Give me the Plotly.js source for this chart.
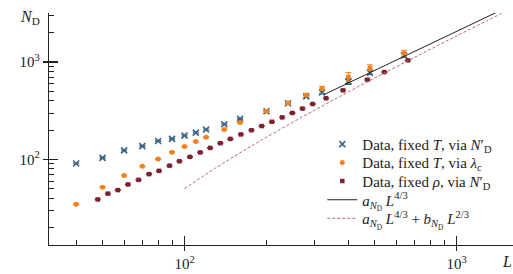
<!DOCTYPE html>
<html>
<head>
<meta charset="utf-8">
<script src="https://cdn.plot.ly/plotly-3.0.1.min.js"></script>
<style>html,body{margin:0;padding:0;background:#fff;}#chart{width:513px;height:274px;}</style>
</head>
<body>
<div id="chart"></div>
<script>
// Data
const L_fixedT = [40, 50, 60, 70, 80, 90, 100, 110, 120, 140, 160, 200, 240, 280, 320, 400, 480, 640];
const N_fixedT_viaND = [91, 104, 124, 137, 155, 163, 176, 189, 203, 230, 261, 313, 378, 445, 489, 634, 779, 1171];
const err_fixedT_viaND = [1, 1, 1.5, 1.5, 2, 2, 2, 2, 2.5, 3, 3, 4, 5, 9, 17, 45, 37, 55];
const N_fixedT_viaLam = [34.6, 52, 68.6, 85.4, 101.4, 118.8, 135.9, 152.9, 169.2, 203, 239.4, 312.6, 380.2, 459.2, 537.8, 708.6, 876, 1236];
const err_fixedT_viaLam = [0.5, 0.8, 1, 1.2, 1.5, 2, 2, 2.5, 3, 3, 4, 5, 7, 10, 25, 70, 61, 85];

const L_fixedRho = [48, 52.3, 56.9, 62, 67.8, 74.1, 80.6, 88.1, 95.8, 104.7, 114.2, 124.2, 135.4, 147.4, 161.1, 176.2, 192.1, 209.4, 228.5, 248.9, 271.2, 295.6, 331.1, 382.4, 469.7, 542.2, 661.5];
const N_fixedRho_viaND = [38.9, 44.6, 48.5, 55.4, 61.8, 70.7, 76.4, 86.4, 95.9, 106.3, 118.2, 131.5, 146.9, 162.6, 180.8, 199.6, 220.4, 244, 270.6, 300.3, 333.1, 371.3, 424.9, 512.9, 660, 789.9, 1040.9];
const err_fixedRho_viaND = [0.4, 0.4, 0.5, 0.5, 0.6, 0.7, 0.8, 0.9, 1, 1, 1.2, 1.3, 1.5, 1.6, 1.8, 2, 2.2, 2.4, 2.7, 3, 3.3, 3.7, 4.2, 5, 6.5, 8, 10];

const L_fitLead = [325, 1600];
const N_fitLead = [463, 3874];
const L_fitFull = [100, 130, 170, 220, 300, 400, 550, 750, 1000, 1300, 1600];
const N_fitFull = [50.2, 81.6, 129.6, 197.3, 320.2, 494.4, 789.8, 1234.9, 1857, 2683, 3582];

const seriesNames = [
  'Data, fixed <i>T</i>, via <i>N</i>′<sub>D</sub>',
  'Data, fixed <i>T</i>, via <i>λ</i><sub>c</sub>',
  'Data, fixed <i>ρ</i>, via <i>N</i>′<sub>D</sub>',
  '<i>a</i><sub><i>N</i><sub>D</sub></sub> <i>L</i><sup>4/3</sup>',
  '<i>a</i><sub><i>N</i><sub>D</sub></sub> <i>L</i><sup>4/3</sup> + <i>b</i><sub><i>N</i><sub>D</sub></sub> <i>L</i><sup>2/3</sup>'
];

const xMajor = [100, 1000];
const xMajorText = ['10<sup>2</sup>', '10<sup>3</sup>'];
const xMinor = [40, 50, 60, 70, 80, 90, 200, 300, 400, 500, 600, 700, 800, 900];
const yMajor = [100, 1000];
const yMajorText = ['10<sup>2</sup>', '10<sup>3</sup>'];
const yMinor = [20, 30, 40, 50, 60, 70, 80, 90, 200, 300, 400, 500, 600, 700, 800, 900, 2000, 3000];

const cBlue = '#3b6585', cOrange = '#f4811c', cRed = '#7e2230', cDash = '#b8696b';
const FONT = 'Liberation Serif, DejaVu Serif, serif';
const xRange = [1.5022, 3.2067];
const yRange = [1.1219, 3.5041];

const traces = [
  {x: L_fixedT, y: N_fixedT_viaND, type: 'scatter', mode: 'markers', name: seriesNames[0], legend: 'legend',
   marker: {symbol: 'x-thin-open', size: 6, color: cBlue, line: {color: cBlue, width: 1.6}},
   error_y: {type: 'data', array: err_fixedT_viaND, visible: true, color: cBlue, thickness: 1, width: 3}},
  {x: L_fixedT, y: N_fixedT_viaLam, type: 'scatter', mode: 'markers', name: seriesNames[1], legend: 'legend2',
   marker: {symbol: 'circle', size: 5, color: cOrange},
   error_y: {type: 'data', array: err_fixedT_viaLam, visible: true, color: cOrange, thickness: 1, width: 3}},
  {x: L_fixedRho, y: N_fixedRho_viaND, type: 'scatter', mode: 'markers', name: seriesNames[2], legend: 'legend3',
   marker: {symbol: 'square', size: 4.5, color: cRed},
   error_y: {type: 'data', array: err_fixedRho_viaND, visible: true, color: cRed, thickness: 1, width: 3}},
  {x: L_fitLead, y: N_fitLead, type: 'scatter', mode: 'lines', name: seriesNames[3], legend: 'legend4',
   line: {color: '#222', width: 1}},
  {x: L_fitFull, y: N_fitFull, type: 'scatter', mode: 'lines', name: seriesNames[4], legend: 'legend5',
   line: {shape: 'spline', color: cDash, width: 1, dash: '3px,2px'}},
  {x: [], y: [], xaxis: 'x2', yaxis: 'y2', showlegend: false, hoverinfo: 'skip'}
];

const axisCommon = {type: 'log', showgrid: false, zeroline: false, showline: true, linecolor: '#222', linewidth: 1.2,
  ticks: 'outside', ticklen: 5, tickwidth: 1.2, tickcolor: '#222', tickmode: 'array',
  tickfont: {family: FONT, size: 15, color: '#222'}};

function legendAt(yPaper) {
  return {x: 0.589, xanchor: 'left', y: yPaper, yanchor: 'middle', bgcolor: 'rgba(0,0,0,0)',
          font: {family: FONT, size: 15, color: '#222'}, itemwidth: 30};
}

const layout = {
  width: 513, height: 274,
  margin: {l: 49, r: 0, t: 12.5, b: 29},
  paper_bgcolor: '#fff', plot_bgcolor: '#fff',
  font: {family: FONT, size: 15, color: '#222'},
  showlegend: true,
  legend: legendAt(0.434),
  legend2: legendAt(0.355),
  legend3: legendAt(0.275),
  legend4: legendAt(0.194),
  legend5: legendAt(0.114),
  xaxis: Object.assign({}, axisCommon, {range: xRange, tickvals: xMajor, ticktext: xMajorText,
    minor: {tickvals: xMinor, ticks: 'inside', ticklen: 5, tickwidth: 1, tickcolor: '#222'}}),
  yaxis: Object.assign({}, axisCommon, {range: yRange, tickvals: yMajor, ticktext: yMajorText,
    minor: {tickvals: yMinor, ticks: 'inside', ticklen: 5, tickwidth: 1, tickcolor: '#222'}}),
  xaxis2: {type: 'log', overlaying: 'x', anchor: 'y', side: 'bottom', range: xRange, showgrid: false, zeroline: false,
    showline: false, tickmode: 'array', tickvals: xMajor, ticks: 'inside', ticklen: 9, tickwidth: 1.2, tickcolor: '#222', showticklabels: false},
  yaxis2: {type: 'log', overlaying: 'y', anchor: 'x', side: 'left', range: yRange, showgrid: false, zeroline: false,
    showline: false, tickmode: 'array', tickvals: yMajor, ticks: 'inside', ticklen: 9, tickwidth: 1.2, tickcolor: '#222', showticklabels: false},
  annotations: [
    {text: '<i>N</i><sub>D</sub>', xref: 'paper', yref: 'paper', x: -0.04, y: 0.98, xanchor: 'center', yanchor: 'middle',
     showarrow: false, font: {family: FONT, size: 16, color: '#222'}},
    {text: '<i>L</i>', xref: 'paper', yref: 'paper', x: 0.987, y: -0.069, xanchor: 'center', yanchor: 'middle',
     showarrow: false, font: {family: FONT, size: 16, color: '#222'}}
  ]
};

Plotly.newPlot('chart', traces, layout, {displayModeBar: false, staticPlot: true});
</script>
</body>
</html>
